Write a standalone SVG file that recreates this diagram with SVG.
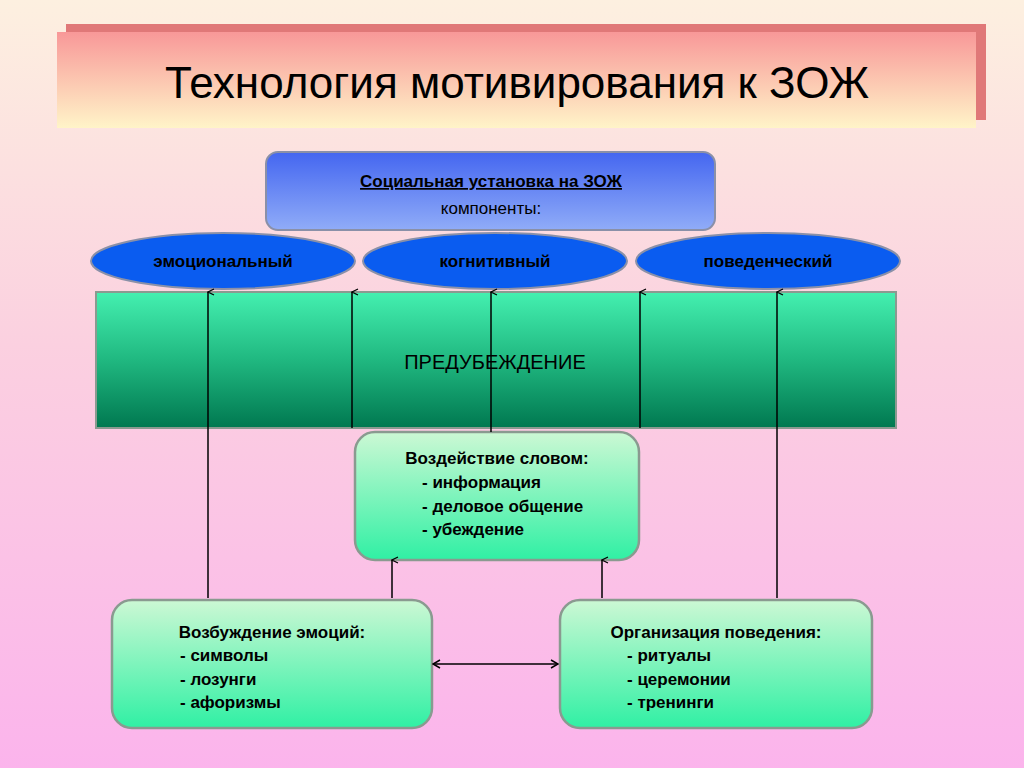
<svg xmlns="http://www.w3.org/2000/svg" width="1024" height="768" viewBox="0 0 1024 768">
<defs>
<linearGradient id="bg" x1="0" y1="0" x2="0" y2="1"><stop offset="0" stop-color="#fdf0e0"/><stop offset="0.45" stop-color="#fbd0e0"/><stop offset="1" stop-color="#fbb4ec"/></linearGradient>
<linearGradient id="ti" x1="0" y1="0" x2="0" y2="1"><stop offset="0" stop-color="#f89898"/><stop offset="1" stop-color="#fff4c8"/></linearGradient>
<linearGradient id="bl" x1="0" y1="0" x2="0" y2="1"><stop offset="0" stop-color="#4466f0"/><stop offset="1" stop-color="#90acf8"/></linearGradient>
<linearGradient id="gr" x1="0" y1="0" x2="0" y2="1"><stop offset="0" stop-color="#44f0b0"/><stop offset="0.5" stop-color="#20b880"/><stop offset="1" stop-color="#007850"/></linearGradient>
<linearGradient id="lg" x1="0" y1="0" x2="0" y2="1"><stop offset="0" stop-color="#ccf8d4"/><stop offset="1" stop-color="#30f0a4"/></linearGradient>
<marker id="ah" markerWidth="8" markerHeight="8" refX="4" refY="1" orient="auto-start-reverse" markerUnits="userSpaceOnUse" viewBox="0 0 8 8"><path d="M1,7 L4,1 L7,7" fill="none" stroke="#000" stroke-width="1.2"/></marker>
<marker id="ah2" markerWidth="10" markerHeight="10" refX="9" refY="5" orient="auto-start-reverse" markerUnits="userSpaceOnUse" viewBox="0 0 10 10"><path d="M2,1 L9,5 L2,9" fill="none" stroke="#000" stroke-width="1.5"/></marker>
</defs>
<style>
text{font-family:"Liberation Sans",Arial,sans-serif;fill:#000}
.b{font-weight:bold;font-size:17px}
.box{stroke:#8a9a90;stroke-width:2.5}
.ln{stroke:#000;stroke-width:1.5;fill:none}
</style>
<rect width="1024" height="768" fill="url(#bg)"/>
<g id="title">
<rect x="66" y="24" width="920" height="96" fill="#e07878"/>
<rect x="57" y="32" width="919" height="96" fill="url(#ti)"/>
<text x="517" y="98" font-size="44" text-anchor="middle">Технология мотивирования к ЗОЖ</text>
</g>
<g id="social">
<rect x="266" y="152" width="449" height="78" rx="12" fill="url(#bl)" stroke="#8a90a8" stroke-width="2"/>
<text x="491" y="187" class="b" font-size="18" text-anchor="middle" text-decoration="underline">Социальная установка на ЗОЖ</text>
<text x="491" y="214" font-size="17" text-anchor="middle">компоненты:</text>
</g>
<g id="emo"><ellipse cx="223" cy="261" rx="132" ry="28" fill="#0a5cf0" stroke="#8a90a8" stroke-width="2"/><text x="223" y="267" class="b" font-size="16" text-anchor="middle">эмоциональный</text></g>
<g id="cog"><ellipse cx="495" cy="261" rx="132" ry="28" fill="#0a5cf0" stroke="#8a90a8" stroke-width="2"/><text x="495" y="267" class="b" font-size="16" text-anchor="middle">когнитивный</text></g>
<g id="beh"><ellipse cx="768" cy="261" rx="132" ry="28" fill="#0a5cf0" stroke="#8a90a8" stroke-width="2"/><text x="768" y="267" class="b" font-size="16" text-anchor="middle">поведенческий</text></g>
<g id="prej">
<rect x="96" y="292" width="800" height="136" fill="url(#gr)" stroke="#8a9a90" stroke-width="2"/>
<text x="495" y="369" font-size="20" text-anchor="middle">ПРЕДУБЕЖДЕНИЕ</text>
</g>
<g id="word">
<rect x="355" y="432" width="284" height="128" rx="20" fill="url(#lg)" class="box"/>
<text x="497" y="464" class="b" text-anchor="middle">Воздействие словом:</text>
<text x="422" y="488" class="b">-  информация</text>
<text x="422" y="512" class="b">-  деловое общение</text>
<text x="422" y="535" class="b">-  убеждение</text>
</g>
<g id="emotions">
<rect x="112" y="600" width="320" height="128" rx="20" fill="url(#lg)" class="box"/>
<text x="272" y="638" class="b" text-anchor="middle">Возбуждение эмоций:</text>
<text x="180" y="661" class="b">-  символы</text>
<text x="180" y="685" class="b">-  лозунги</text>
<text x="180" y="708" class="b">-  афоризмы</text>
</g>
<g id="org">
<rect x="560" y="600" width="312" height="128" rx="20" fill="url(#lg)" class="box"/>
<text x="716" y="638" class="b" text-anchor="middle">Организация поведения:</text>
<text x="627" y="661" class="b">-  ритуалы</text>
<text x="627" y="685" class="b">-  церемонии</text>
<text x="627" y="708" class="b">-  тренинги</text>
</g>
<g id="connectors">
<line x1="208" y1="598" x2="208" y2="292" class="ln" marker-end="url(#ah)"/>
<line x1="352" y1="428" x2="352" y2="292" class="ln" marker-end="url(#ah)"/>
<line x1="491" y1="432" x2="491" y2="292" class="ln" marker-end="url(#ah)"/>
<line x1="640" y1="428" x2="640" y2="292" class="ln" marker-end="url(#ah)"/>
<line x1="777" y1="598" x2="777" y2="292" class="ln" marker-end="url(#ah)"/>
<line x1="392" y1="598" x2="392" y2="560" class="ln" stroke-width="2.5" marker-end="url(#ah)"/>
<line x1="602" y1="598" x2="602" y2="560" class="ln" stroke-width="2.5" marker-end="url(#ah)"/>
<line x1="433" y1="664" x2="558" y2="664" class="ln" stroke-width="2.5" marker-start="url(#ah2)" marker-end="url(#ah2)"/>
</g>
</svg>
